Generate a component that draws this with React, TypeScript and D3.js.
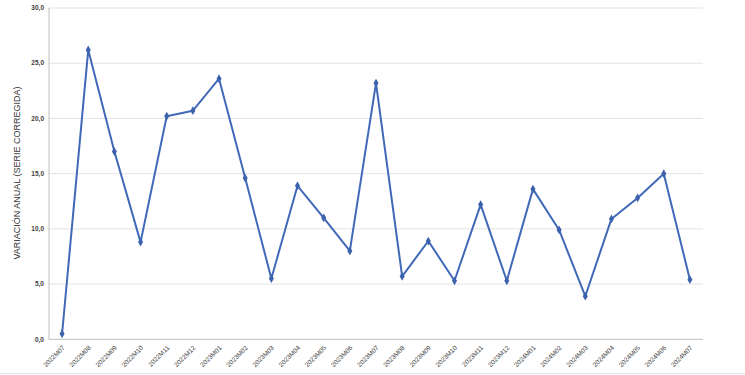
import React from "react";
import * as d3 from "d3";

const categories = [
  "2022M07","2022M08","2022M09","2022M10","2022M11","2022M12",
  "2023M01","2023M02","2023M03","2023M04","2023M05","2023M06",
  "2023M07","2023M08","2023M09","2023M10","2023M11","2023M12",
  "2024M01","2024M02","2024M03","2024M04","2024M05","2024M06","2024M07",
];
const values = [
  0.5, 26.2, 17.0, 8.8, 20.2, 20.7,
  23.6, 14.6, 5.5, 13.9, 11.0, 8.0,
  23.2, 5.7, 8.9, 5.3, 12.2, 5.3,
  13.6, 9.9, 3.9, 10.9, 12.8, 15.0, 5.4,
];
const yTicks = [0, 5, 10, 15, 20, 25, 30];
const yTitle = "VARIACIÓN ANUAL (SERIE CORREGIDA)";

const W = 745, H = 375;
const left = 49, right = 703, top = 8, bottom = 339.3;

export default function App() {
  const x = d3.scaleBand<string>().domain(categories).range([left, right]);
  const y = d3.scaleLinear().domain([0, 30]).range([bottom, top]);
  const cx = (c: string) => (x(c) ?? 0) + x.bandwidth() / 2;
  const line = d3.line<number>().x((_, i) => cx(categories[i])).y((v) => y(v));
  const fmt = (v: number) => v.toFixed(1).replace(".", ",");
  const font = "'Liberation Sans', Arial, sans-serif";
  const marker = d3.symbol().type(d3.symbolDiamond).size(22);

  return (
    <svg width={W} height={H} style={{ position: "absolute", left: 0, top: 0, background: "#fff" }}>
      <rect x={0} y={0} width={W} height={H} fill="#fff" />
      {yTicks.filter((t) => t > 0).map((t) => (
        <line key={"g" + t} x1={left} x2={right} y1={y(t)} y2={y(t)} stroke="#e3e3e3" strokeWidth={1} />
      ))}
      <line x1={left} x2={left} y1={top} y2={bottom} stroke="#bfbfbf" strokeWidth={1} />
      <line x1={left} x2={right} y1={bottom} y2={bottom} stroke="#bfbfbf" strokeWidth={1} />
      <line x1={0} x2={W} y1={373.5} y2={373.5} stroke="#e6e6e6" strokeWidth={1} />
      {yTicks.map((t) => (
        <text key={"t" + t} x={44} y={y(t)} dy="0.35em" textAnchor="end" fontFamily={font}
          fontSize={6.5} fill="#404040" fontWeight="bold">{fmt(t)}</text>
      ))}
      <text transform={`translate(20,173) rotate(-90)`} textAnchor="middle"
        fontFamily={font} fontSize={9} fill="#333">{yTitle}</text>
      {categories.map((c) => (
        <text key={c} transform={`translate(${cx(c) + 3},${bottom + 9}) rotate(-45)`} textAnchor="end"
          fontFamily={font} fontSize={6.5} fill="#404040">{c}</text>
      ))}
      <path d={line(values) ?? ""} fill="none" stroke="#4169b8" strokeWidth={2} strokeLinejoin="round" />
      {values.map((v, i) => (
        <path key={i} d={marker() ?? ""} transform={`translate(${cx(categories[i])},${y(v)})`} fill="#3d62ad" />
      ))}
    </svg>
  );
}
